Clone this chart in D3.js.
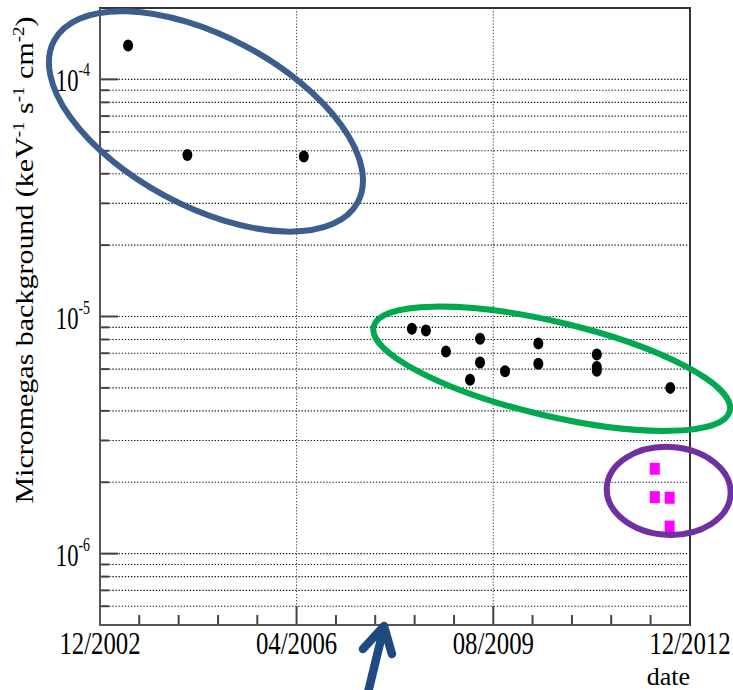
<!DOCTYPE html>
<html>
<head>
<meta charset="utf-8">
<script src="https://cdn.jsdelivr.net/npm/d3@7"></script>
<style>
  body{margin:0;background:#fff;}
  svg{display:block;}
</style>
</head>
<body>
<svg id="chart" width="733" height="690"></svg>
<script>
// background level per run
var oldDates = ["2003-05-24", "2004-05-25", "2006-05-16"];
var oldValues = [1.39e-4, 4.80e-5, 4.73e-5];

var newDates = ["2008-03-15", "2008-06-10", "2008-10-12", "2009-05-11", "2009-05-11", "2009-03-10", "2009-10-13",
                "2010-05-07", "2010-05-07", "2011-05-04", "2011-05-04", "2011-05-04", "2012-08-01"];
var newValues = [8.87e-6, 8.73e-6, 7.11e-6, 8.05e-6, 6.40e-6, 5.41e-6, 5.88e-6,
                 7.69e-6, 6.32e-6, 6.91e-6, 6.13e-6, 5.90e-6, 5.00e-6];

var undergroundDates = ["2012-04-27", "2012-04-27", "2012-07-28", "2012-07-28"];
var undergroundValues = [2.28e-6, 1.73e-6, 1.72e-6, 1.30e-6];

var xTickLabels = ["12/2002", "04/2006", "08/2009", "12/2012"];
var yTickValues = [1e-6, 1e-5, 1e-4];
var yTickExponents = ["-6", "-5", "-4"];

// hand drawn circles and the arrow (anchor in data units)
var circleDates = ["2004-09-17", "2010-07-29", "2012-07-22"];
var circleValues = [6.65e-5, 6.02e-6, 1.84e-6];
var arrowDate = "2007-09-24";

var circleShape = [
  {rx: 172, ry: 85, rot: 28, color: "#3b5e8c"},
  {rx: 183, ry: 47, rot: 13.3, color: "#00a84f"},
  {rx: 62, ry: 44, rot: 3, color: "#7030a0"}
];

var svg = d3.select("#chart"),
    margin = {top: 8, right: 43, bottom: 65, left: 100},
    width = +svg.attr("width") - margin.left - margin.right,
    height = +svg.attr("height") - margin.top - margin.bottom,
    g = svg.append("g").attr("transform", "translate(" + margin.left + "," + margin.top + ")");

var parseDay = d3.timeParse("%Y-%m-%d"),
    parseMonth = d3.timeParse("%m/%Y");

var majorDates = xTickLabels.map(parseMonth);

var x = d3.scaleTime()
  .domain([majorDates[0], majorDates[majorDates.length - 1]])
  .range([0, width]);

var y = d3.scaleLog()
  .domain([5e-7, 2e-4])
  .range([height, 0]);

var serif = "'Liberation Serif', 'Times New Roman', serif";

// minor x ticks every 8 months between the labelled ones
var minorDates = [];
for (var i = 0; i < majorDates.length - 1; i++) {
  for (var j = 1; j < 5; j++) minorDates.push(d3.timeMonth.offset(majorDates[i], 8 * j));
}

var yTicks = y.ticks().filter(function(v) { return v > 5e-7 * 1.001 && v < 2e-4 * 0.999; });
function isMajor(v) { return Math.abs(Math.log10(v) - Math.round(Math.log10(v))) < 1e-6; }

// horizontal grid
g.append("g")
  .selectAll("line")
  .data(yTicks)
  .enter().append("line")
  .attr("x1", 0)
  .attr("x2", width)
  .attr("y1", function(d) { return y(d); })
  .attr("y2", function(d) { return y(d); })
  .attr("stroke", "#111")
  .attr("stroke-width", 1.1)
  .attr("stroke-dasharray", "1.3,1.8");

// vertical grid at inner labelled dates
g.append("g")
  .selectAll("line")
  .data(majorDates.slice(1, -1))
  .enter().append("line")
  .attr("x1", function(d) { return x(d); })
  .attr("x2", function(d) { return x(d); })
  .attr("y1", 0)
  .attr("y2", height)
  .attr("stroke", "#555")
  .attr("stroke-width", 1.1)
  .attr("stroke-dasharray", "1.3,1.8");

// y ticks
g.append("g")
  .selectAll("line")
  .data(yTicks)
  .enter().append("line")
  .attr("x1", 0)
  .attr("x2", function(d) { return isMajor(d) ? 18 : 9; })
  .attr("y1", function(d) { return y(d); })
  .attr("y2", function(d) { return y(d); })
  .attr("stroke", "#444")
  .attr("stroke-width", 2);

// x ticks
g.append("g")
  .selectAll("line")
  .data(majorDates.concat(minorDates))
  .enter().append("line")
  .attr("x1", function(d) { return x(d); })
  .attr("x2", function(d) { return x(d); })
  .attr("y1", height)
  .attr("y2", function(d, i) { return i < majorDates.length ? height - 19 : height - 10; })
  .attr("stroke", "#444")
  .attr("stroke-width", 2);

// frame
g.append("path")
  .attr("d", "M0," + height + "V0H" + width + "V" + height + "Z")
  .attr("fill", "none")
  .attr("stroke", "#333")
  .attr("stroke-width", 2);
g.append("path")
  .attr("d", "M0,0V" + height + "H" + width)
  .attr("fill", "none")
  .attr("stroke", "#555")
  .attr("stroke-width", 2);

// y tick labels: 10^n
var yLab = g.append("g")
  .selectAll("text")
  .data(yTickValues)
  .enter().append("text")
  .attr("transform", function(d) { return "translate(-10," + (y(d) + 12) + ") scale(0.73,1)"; })
  .attr("text-anchor", "end")
  .attr("font-family", serif)
  .attr("font-size", 31)
  .attr("fill", "#000");
yLab.append("tspan").text("10");
yLab.append("tspan")
  .attr("dy", -15)
  .attr("font-size", 19)
  .text(function(d, i) { return yTickExponents[i]; });

// x tick labels
g.append("g")
  .selectAll("text")
  .data(majorDates)
  .enter().append("text")
  .attr("transform", function(d) { return "translate(" + x(d) + "," + (height + 29) + ") scale(0.8,1)"; })
  .attr("text-anchor", "middle")
  .attr("font-family", serif)
  .attr("font-size", 31)
  .attr("fill", "#000")
  .text(function(d, i) { return xTickLabels[i]; });

g.append("text")
  .attr("x", width)
  .attr("y", height + 60)
  .attr("text-anchor", "end")
  .attr("font-family", serif)
  .attr("font-size", 26)
  .attr("fill", "#000")
  .text("date");

// y axis title
var title = svg.append("text")
  .attr("transform", "translate(33,260) rotate(-90) scale(1,0.84)")
  .attr("text-anchor", "middle")
  .attr("font-family", serif)
  .attr("font-size", 30)
  .attr("fill", "#000");
title.append("tspan").text("Micromegas background (keV");
title.append("tspan").attr("dy", -11).attr("font-size", 19).text("-1");
title.append("tspan").attr("dy", 11).text(" s");
title.append("tspan").attr("dy", -11).attr("font-size", 19).text("-1");
title.append("tspan").attr("dy", 11).text(" cm");
title.append("tspan").attr("dy", -11).attr("font-size", 19).text("-2");
title.append("tspan").attr("dy", 11).text(")");

// points
var blackPts = oldDates.map(function(d, i) { return {date: parseDay(d), value: oldValues[i]}; })
  .concat(newDates.map(function(d, i) { return {date: parseDay(d), value: newValues[i]}; }));

g.append("g")
  .selectAll("ellipse")
  .data(blackPts)
  .enter().append("ellipse")
  .attr("cx", function(d) { return x(d.date); })
  .attr("cy", function(d) { return y(d.value); })
  .attr("rx", 5)
  .attr("ry", 6)
  .attr("fill", "#000");

g.append("g")
  .selectAll("rect")
  .data(undergroundDates.map(function(d, i) { return {date: parseDay(d), value: undergroundValues[i]}; }))
  .enter().append("rect")
  .attr("x", function(d) { return x(d.date) - 5; })
  .attr("y", function(d) { return y(d.value) - 6; })
  .attr("width", 10)
  .attr("height", 12)
  .attr("fill", "#ff00ff");

// circles
g.append("g")
  .selectAll("ellipse")
  .data(circleShape)
  .enter().append("ellipse")
  .attr("transform", function(d, i) {
    return "translate(" + x(parseDay(circleDates[i])) + "," + y(circleValues[i]) + ") rotate(" + d.rot + ")";
  })
  .attr("rx", function(d) { return d.rx; })
  .attr("ry", function(d) { return d.ry; })
  .attr("fill", "none")
  .attr("stroke", function(d) { return d.color; })
  .attr("stroke-width", 6);

// arrow
var ax = margin.left + x(parseDay(arrowDate)), ay = margin.top + height;
svg.append("path")
  .attr("d", "M" + (ax - 17) + "," + (ay + 72) + "L" + ax + "," + (ay + 2) +
             "M" + (ax - 21) + "," + (ay + 24) + "L" + ax + "," + (ay + 1) + "L" + (ax + 8) + "," + (ay + 29))
  .attr("fill", "none")
  .attr("stroke", "#1f4a80")
  .attr("stroke-width", 8.5)
  .attr("stroke-linecap", "round")
  .attr("stroke-linejoin", "round");
</script>
</body>
</html>
